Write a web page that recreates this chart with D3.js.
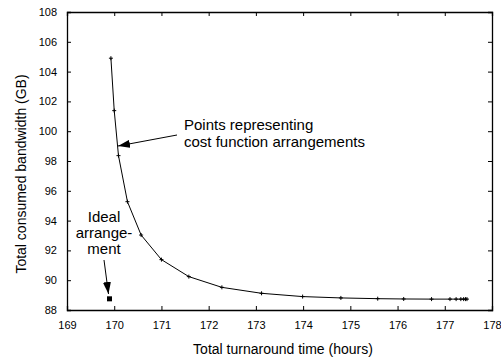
<!DOCTYPE html>
<html>
<head>
<meta charset="utf-8">
<script src="https://cdn.jsdelivr.net/npm/d3@7"></script>
<style>
  body { margin: 0; background: #fff; }
  text { font-family: "Liberation Sans", Arial, sans-serif; fill: #000; }
</style>
</head>
<body>
<div id="chart"></div>
<script>
// data
const turnaround = [169.93, 170.0, 170.09, 170.28, 170.57, 171.0, 171.58, 172.28, 173.12, 173.99,
                    174.8, 175.58, 176.13, 176.72, 177.11, 177.24, 177.34, 177.4, 177.44, 177.47];
const bandwidth = [104.9, 101.38, 98.36, 95.27, 93.03, 91.38, 90.24, 89.52, 89.12, 88.9,
                   88.81, 88.76, 88.74, 88.73, 88.73, 88.73, 88.73, 88.73, 88.73, 88.73];
const ideal = [169.9, 88.75];
const xTicks = [169, 170, 171, 172, 173, 174, 175, 176, 177, 178];
const yTicks = [88, 90, 92, 94, 96, 98, 100, 102, 104, 106, 108];

const width = 501, height = 364;
const margin = { top: 12, right: 9, bottom: 54, left: 67 };

const svg = d3.select("#chart").append("svg")
    .attr("width", width)
    .attr("height", height);

svg.append("defs").append("marker")
    .attr("id", "head")
    .attr("viewBox", "0 0 12 8")
    .attr("refX", 12).attr("refY", 4)
    .attr("markerWidth", 12).attr("markerHeight", 8)
    .attr("markerUnits", "userSpaceOnUse")
    .attr("orient", "auto")
  .append("path")
    .attr("d", "M0,0 L12,4 L0,8 z")
    .attr("fill", "#000");

const x = d3.scaleLinear().domain([169, 178]).range([margin.left, width - margin.right]);
const y = d3.scaleLinear().domain([88, 108]).range([height - margin.bottom, margin.top]);

const tick = 4;
// bottom + left axes with labels, top + right mirrored ticks only
svg.append("g")
    .attr("transform", "translate(0," + y(88) + ")")
    .call(d3.axisBottom(x).tickValues(xTicks).tickSize(-tick).tickPadding(11).tickFormat(d3.format("d")));
svg.append("g")
    .attr("transform", "translate(0," + y(108) + ")")
    .call(d3.axisTop(x).tickValues(xTicks).tickSize(-tick).tickFormat(""));
svg.append("g")
    .attr("transform", "translate(" + x(169) + ",0)")
    .call(d3.axisLeft(y).tickValues(yTicks).tickSize(-tick).tickPadding(10).tickFormat(d3.format("d")));
svg.append("g")
    .attr("transform", "translate(" + x(178) + ",0)")
    .call(d3.axisRight(y).tickValues(yTicks).tickSize(-tick).tickFormat(""));

svg.selectAll(".domain").attr("stroke", "#000").attr("stroke-width", 1.3);
svg.selectAll(".tick line").attr("stroke", "#000");
svg.selectAll(".tick text")
    .style("font-family", "Liberation Sans, Arial, sans-serif")
    .style("font-size", "11px")
    .attr("fill", "#000");

// curve
const pts = turnaround.map((t, i) => [t, bandwidth[i]]);
svg.append("path")
    .datum(pts)
    .attr("fill", "none")
    .attr("stroke", "#000")
    .attr("stroke-width", 1)
    .attr("d", d3.line().x(d => x(d[0])).y(d => y(d[1])));

svg.append("g").selectAll("path")
    .data(pts)
    .enter().append("path")
    .attr("d", d => "M" + (x(d[0]) - 2) + "," + y(d[1]) + "h4M" + x(d[0]) + "," + (y(d[1]) - 2) + "v4")
    .attr("stroke", "#000")
    .attr("stroke-width", 1);

// ideal point
svg.append("rect")
    .attr("x", x(ideal[0]) - 2.5)
    .attr("y", y(ideal[1]) - 2.5)
    .attr("width", 5).attr("height", 5)
    .attr("fill", "#000");

// annotations
svg.append("line")
    .attr("x1", 177).attr("y1", 135)
    .attr("x2", 118).attr("y2", 146)
    .attr("stroke", "#000").attr("stroke-width", 1)
    .attr("marker-end", "url(#head)");

const note1 = svg.append("text")
    .style("font-size", "15px");
note1.append("tspan").attr("x", 184).attr("y", 130).text("Points representing");
note1.append("tspan").attr("x", 184).attr("y", 147).text("cost function arrangements");

svg.append("line")
    .attr("x1", 104).attr("y1", 260)
    .attr("x2", 108.5).attr("y2", 294)
    .attr("stroke", "#000").attr("stroke-width", 1)
    .attr("marker-end", "url(#head)");

const note2 = svg.append("text")
    .attr("text-anchor", "middle")
    .style("font-size", "15px");
note2.append("tspan").attr("x", 104).attr("y", 222).text("Ideal");
note2.append("tspan").attr("x", 104).attr("y", 238).text("arrange-");
note2.append("tspan").attr("x", 104).attr("y", 254).text("ment");

// axis titles
svg.append("text")
    .attr("x", 283)
    .attr("y", 354)
    .attr("text-anchor", "middle")
    .style("font-size", "14px")
    .text("Total turnaround time (hours)");

svg.append("text")
    .attr("transform", "translate(26,174)rotate(-90)")
    .attr("text-anchor", "middle")
    .style("font-size", "14px")
    .text("Total consumed bandwidth (GB)");
</script>
</body>
</html>
